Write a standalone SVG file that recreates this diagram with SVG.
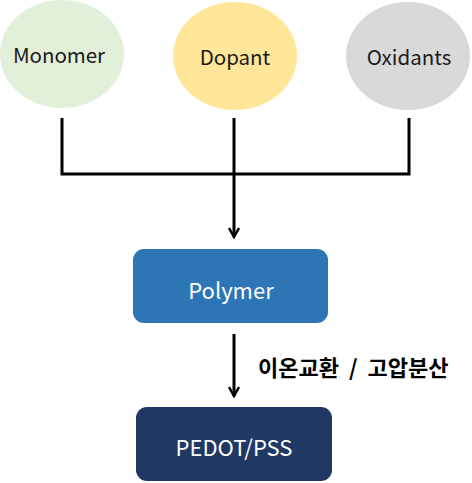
<svg xmlns="http://www.w3.org/2000/svg" width="472" height="483" viewBox="0 0 472 483">
<defs>
<style>
.lbl{font-family:"Noto Sans CJK KR","Noto Sans",sans-serif;text-anchor:middle;dominant-baseline:central}
.sm{font-size:20.5px}
.bg{font-size:22px}
.dark{fill:#1a1a1a}
.white{fill:#ffffff}
.wire{stroke:#000;stroke-width:3;fill:none}
.kr{font-family:"Noto Sans CJK KR",sans-serif;font-size:22px;font-weight:bold;fill:#000;word-spacing:5px}
</style>
<marker id="arr" viewBox="0 0 12 12" refX="10" refY="6" markerWidth="12" markerHeight="12" markerUnits="userSpaceOnUse" orient="auto">
<path d="M1,1 L10,6 L1,11" fill="none" stroke="#000" stroke-width="2.5"/>
</marker>
</defs>
<rect width="472" height="483" fill="#fff"/>
<g id="monomer">
<ellipse cx="62" cy="54" rx="62" ry="54" fill="#E2F0D9"/>
<text class="lbl sm dark" x="59" y="54" textLength="92">Monomer</text>
</g>
<g id="dopant">
<ellipse cx="235" cy="56" rx="62" ry="54" fill="#FFE699"/>
<text class="lbl sm dark" x="235" y="56">Dopant</text>
</g>
<g id="oxidants">
<ellipse cx="408" cy="56" rx="62" ry="54" fill="#D9D9D9"/>
<text class="lbl sm dark" x="409" y="56">Oxidants</text>
</g>
<g id="polymer">
<rect x="133" y="249" width="195" height="74" rx="11" fill="#2E75B6"/>
<text class="lbl bg white" x="231" y="289">Polymer</text>
</g>
<g id="pedot">
<rect x="136" y="407" width="196" height="74" rx="11" fill="#203864"/>
<text class="lbl bg white" x="234" y="446">PEDOT/PSS</text>
</g>
<g id="connectors">
<path class="wire" d="M62,118 V174 H409 V118"/>
<path class="wire" d="M234,118 V237" marker-end="url(#arr)"/>
<path class="wire" d="M234,334 V396" marker-end="url(#arr)"/>
<text class="kr" x="258" y="376">이온교환 / 고압분산</text>
</g>
</svg>
